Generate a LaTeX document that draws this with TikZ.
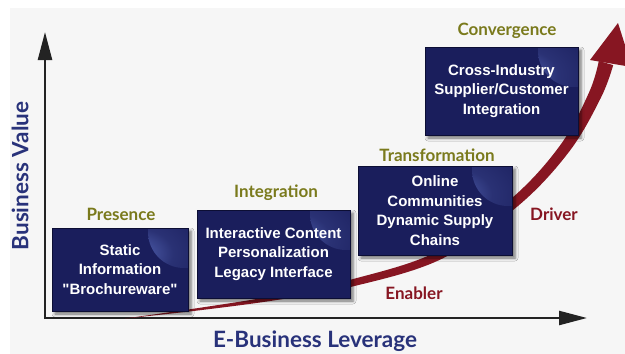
\documentclass[tikz,border=0pt]{standalone}
\usepackage{fontspec}
\setmainfont{Liberation Sans}[Ligatures=TeXOff]
\newfontfamily\lblfont{Lato}
\usetikzlibrary{arrows.meta,shadows.blur}
\definecolor{bgc}{RGB}{246,246,246}
\definecolor{navy}{RGB}{26,30,92}
\definecolor{navyedge}{RGB}{12,14,52}
\definecolor{hl}{RGB}{90,108,190}
\definecolor{olivec}{RGB}{122,122,28}
\definecolor{labnavy}{RGB}{40,50,122}
\definecolor{arrowred}{RGB}{135,22,34}
\definecolor{axisc}{RGB}{35,35,35}
\pgfdeclareradialshading{cornerglow}{\pgfpoint{0bp}{0bp}}{%
  color(0bp)=(hl); color(4bp)=(hl!65!navy); color(11bp)=(hl!25!navy);
  color(25bp)=(navy); color(50bp)=(navy)}
\begin{document}
\begin{tikzpicture}[x=1pt,y=-1pt,
  stagebox/.style={draw=navyedge, line width=1pt, fill=navy, text=white,
    font=\bfseries\fontsize{15}{19.5}\selectfont, align=center, inner sep=0pt,
    blur shadow={shadow xshift=3pt, shadow yshift=-3pt, shadow blur radius=3pt, shadow opacity=55},
    path picture={\shade[shading=cornerglow, draw=none]
      ([xshift=-4pt,yshift=-4pt]path picture bounding box.north east) circle (36pt);}},
  stagelbl/.style={text=olivec, font=\lblfont\bfseries\fontsize{17}{20}\selectfont, inner sep=0pt},
  redlbl/.style={text=arrowred, font=\lblfont\bfseries\fontsize{17}{20}\selectfont, inner sep=0pt},
  axislbl/.style={text=labnavy, font=\lblfont\bfseries\fontsize{22.5}{26}\selectfont, inner sep=0pt},
  axisline/.style={line width=2.4pt, draw=axisc, -{Triangle[length=28pt,width=14pt]}}
]
\useasboundingbox (0,0) rectangle (625,354);
\fill[white] (0,0) rectangle (625,354);
\fill[bgc] (10,8) rectangle (625,354);

% axes
\coordinate (O) at (45,319);
\coordinate (Ytip) at (45,32);
\coordinate (Xtip) at (587,318);
\coordinate (Ox) at (44,318);
\draw[axisline] (O) -- (Ytip);
\draw[axisline] (Ox) -- (Xtip);

% growth arrow
\begin{scope}
\clip (0,0) rectangle (625,354);
\fill[arrowred] plot[smooth, tension=0.6] coordinates {(125,318.5) (199.8,307.8) (274.6,295.8) (349.1,280.1) (438.1,251.2) (511.8,198.2) (560.6,144.7) (589.2,92.1) (598.8,60.9)}
  -- plot[smooth, tension=0.6] coordinates {(613.2,65.1) (600.8,97.9) (569.4,151.3) (518.2,205.8) (441.9,258.8) (350.9,286.9) (275.4,300.2) (200.2,310.2) (125,318.5)} -- cycle;
\fill[arrowred] (590,60) -- (618,23) -- (632,67) -- cycle;
\end{scope}

% boxes
\node[stagebox, minimum width=136pt, minimum height=83pt] (b1) at (120,269.5) {Static\\Information\\"Brochureware"};
\node[stagebox, minimum width=153pt, minimum height=88pt] (b2) at (273.5,254) {Interactive Content\\Personalization\\Legacy Interface};
\node[stagebox, minimum width=154pt, minimum height=89pt] (b3) at (435,210.5) {Online\\Communities\\Dynamic Supply\\Chains};
\node[stagebox, minimum width=153pt, minimum height=88pt] (b4) at (501.5,91) {Cross-Industry\\Supplier/Customer\\Integration};

% stage labels
\node[stagelbl] (l1) at (121,214) {Presence};
\node[stagelbl] (l2) at (276,193) {Integration};
\node[stagelbl] (l3) at (437,155) {Transformation};
\node[stagelbl] (l4) at (507,31) {Convergence};

\node[redlbl] (en) at (414,293) {Enabler};
\node[redlbl] (dr) at (554,214) {Driver};

% axis labels
\node[axislbl, rotate=90] (yl) at (20,176) {Business Value};
\node[axislbl] (xl) at (315,341) {E-Business Leverage};
\end{tikzpicture}
\end{document}
